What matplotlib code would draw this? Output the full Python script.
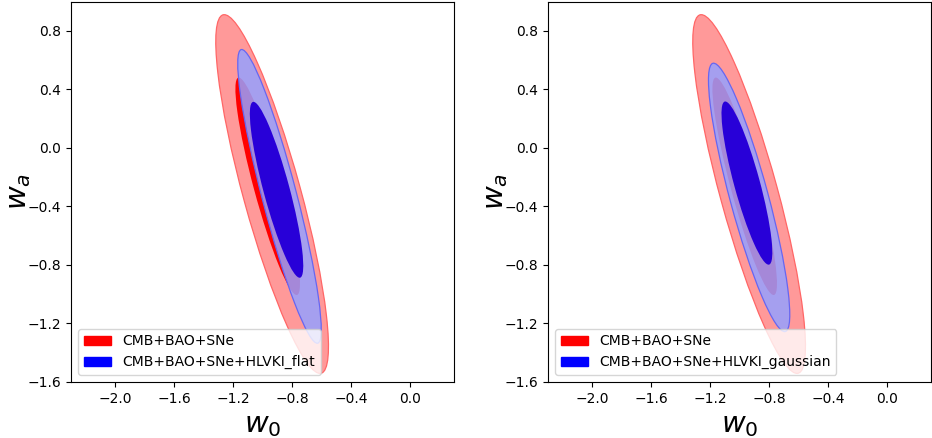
import numpy as np
import matplotlib
matplotlib.use("Agg")
import matplotlib.pyplot as plt
from matplotlib.patches import Patch, Ellipse

# confidence regions, one ellipse per contour:
# centre w0, centre wa, length along the degeneracy, width, tilt (deg)
base_label = "CMB+BAO+SNe"
base_2sig = [-0.935, -0.315, 2.540, 0.390, -74.8]
base_1sig = [-0.965, -0.262, 1.539, 0.190, -75.0]

flat_label = "CMB+BAO+SNe+HLVKI_flat"
flat_2sig = [-0.885, -0.331, 2.074, 0.235, -75.5]
flat_1sig = [-0.905, -0.286, 1.244, 0.177, -75.1]

gauss_label = "CMB+BAO+SNe+HLVKI_gaussian"
gauss_2sig = [-0.935, -0.338, 1.899, 0.260, -75.0]
gauss_1sig = [-0.950, -0.240, 1.155, 0.175, -74.9]

xticks = [-2.0, -1.6, -1.2, -0.8, -0.4, 0.0]
yticks = [0.8, 0.4, 0.0, -0.4, -0.8, -1.2, -1.6]


def region(ax, p, face, edge=None, alpha=1.0):
    e = Ellipse((p[0], p[1]), width=p[2], height=p[3], angle=p[4],
                facecolor=face, edgecolor="none", alpha=alpha)
    ax.add_patch(e)
    if edge is not None:
        ax.add_patch(Ellipse((p[0], p[1]), width=p[2], height=p[3], angle=p[4],
                             facecolor="none", edgecolor=edge, linewidth=0.9))


fig = plt.figure(figsize=(9.32, 4.38), dpi=100)
panels = [(0.0762, flat_2sig, flat_1sig, flat_label),
          (0.588, gauss_2sig, gauss_1sig, gauss_label)]

for left, b2, b1, lab in panels:
    ax = fig.add_axes([left, 0.128, 0.411, 0.868])
    region(ax, base_2sig, "#ff9999", edge=(1, 0.4, 0.4))
    region(ax, base_1sig, "red")
    region(ax, b2, "#95a1ff", edge=(0.4, 0.4, 0.95), alpha=0.85)
    region(ax, b1, "#2800d8")
    ax.set_xlim(-2.3, 0.3)
    ax.set_ylim(-1.6, 1.0)
    ax.set_xticks(xticks)
    ax.set_yticks(yticks)
    ax.tick_params(labelsize=10)
    ax.set_xlabel(r"$w_0$", fontsize=21)
    ax.set_ylabel(r"$w_a$", fontsize=21)
    ax.yaxis.set_label_coords(-0.1, 0.5)
    handles = [Patch(color="red", label=base_label), Patch(color="blue", label=lab)]
    ax.legend(handles=handles, loc="lower left", fontsize=10)

fig.savefig("out.png", dpi=100)
